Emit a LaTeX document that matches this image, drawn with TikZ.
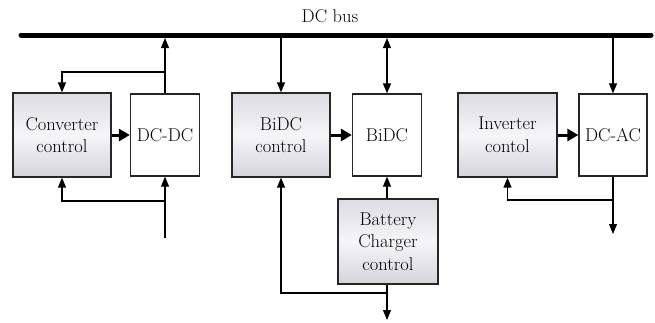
\documentclass[tikz,border=0pt]{standalone}
\usetikzlibrary{arrows.meta}
\definecolor{gtop}{RGB}{220,220,226}
\definecolor{gmid}{RGB}{246,246,248}
\definecolor{gbot}{RGB}{212,212,220}
\begin{document}
\begin{tikzpicture}[x=1pt,y=-1pt,
  txt/.style={font=\fontsize{18.5}{22.5}\selectfont, align=center, inner sep=0pt},
  ctrl/.style={txt, draw=black!85, line width=1.3pt, rectangle, top color=gtop, bottom color=gbot, middle color=gmid, shading angle=0},
  conv/.style={txt, draw=black!85, line width=1.3pt, rectangle, fill=white},
  wire/.style={line width=1.1pt, -{Triangle[length=10pt,width=8pt]}},
  thick arrow/.style={line width=3pt, -{Triangle[length=11pt,width=12pt]}},
  dbl/.style={line width=1.1pt, {Triangle[length=10pt,width=8pt]}-{Triangle[length=10pt,width=8pt]}}
]
\useasboundingbox (0,0) rectangle (655,322);

% bus
\coordinate (busL) at (21,35);
\coordinate (busR) at (651,35);
\draw[line width=5pt, line cap=round] (busL) -- (busR);
\node[txt] (buslabel) at (330,16) {DC bus};
\coordinate (busB) at (0,38);

% left group
\node[ctrl, minimum width=98pt, minimum height=84pt] (cc) at (62,135) {Converter\\control};
\node[conv, minimum width=69pt, minimum height=82pt] (dcdc) at (165,135) {DC-DC};
\draw[wire] (dcdc.north) -- (dcdc.north |- busB);
\coordinate (j1) at (165,72);
\draw[wire] (j1) -| (cc.north);
\coordinate (inL) at (165,238);
\draw[wire] (inL) -- (dcdc.south);
\coordinate (j2) at (165,201);
\draw[wire] (j2) -| (cc.south);
\draw[thick arrow] (cc.east) -- (dcdc.west);

% middle group
\node[ctrl, minimum width=98pt, minimum height=84pt] (bc) at (281,135) {BiDC\\control};
\node[conv, minimum width=69pt, minimum height=82pt] (bidc) at (387,135) {BiDC};
\node[ctrl, minimum width=100pt, minimum height=85pt] (batt) at (388,241.5) {Battery\\Charger\\control};
\draw[wire] (bc.north |- busB) -- (bc.north);
\draw[dbl] (bidc.north |- busB) -- (bidc.north);
\draw[thick arrow] (bc.east) -- (bidc.west);
\draw[wire] (batt.north -| bidc.south) -- (bidc.south);
\coordinate (outM) at (387,320);
\draw[wire] (batt.south -| outM) -- (outM);
\coordinate (j3) at (387,293);
\draw[wire] (j3) -| (bc.south);

% right group
\node[ctrl, minimum width=99pt, minimum height=84pt] (ic) at (507.5,135) {Inverter\\contol};
\node[conv, minimum width=68pt, minimum height=82pt] (dcac) at (613,135) {DC-AC};
\draw[wire] (dcac.north |- busB) -- (dcac.north);
\draw[thick arrow] (ic.east) -- (dcac.west);
\coordinate (outR) at (613,234);
\draw[wire] (dcac.south) -- (outR);
\coordinate (j4) at (613,200);
\draw[wire] (j4) -| (ic.south);
\end{tikzpicture}
\end{document}
